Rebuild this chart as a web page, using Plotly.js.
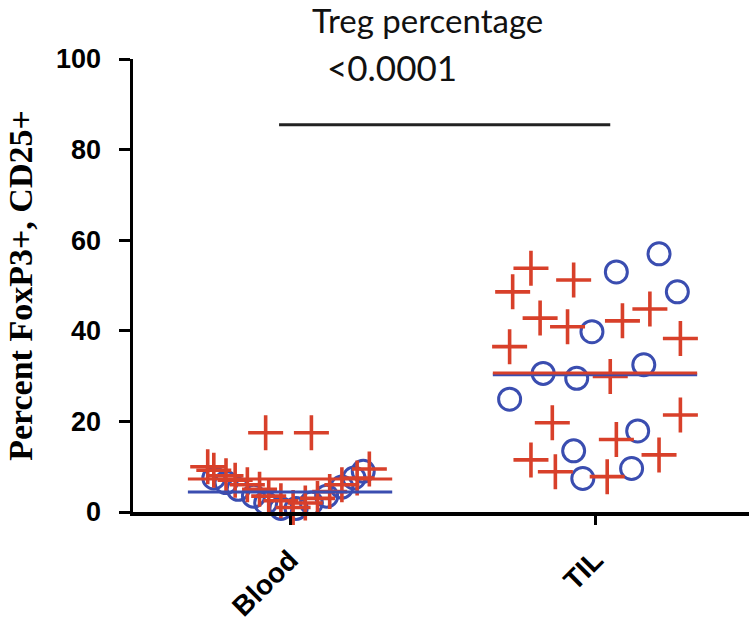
<!DOCTYPE html>
<html>
<head>
<meta charset="utf-8">
<script src="https://cdn.plot.ly/plotly-3.0.1.min.js"></script>
<style>html,body{margin:0;padding:0;background:#fff;}#chart{width:749px;height:631px;}</style>
</head>
<body>
<div id="chart"></div>
<script>
// Categories
const categories = ["Blood", "TIL"];
const yTickVals = [0, 20, 40, 60, 80, 100];
const yTickText = ["0", "20", "40", "60", "80", "100"];

// Blood: red crosses
const bloodRed = [10.0, 9.2, 8.0, 7.0, 6.0, 5.0, 3.5, 2.5, 1.0, 2.0, 3.0, 4.5, 6.0, 7.5, 9.5, 17.5, 17.5];
const bloodRedJitter = [-0.27, -0.25, -0.21, -0.18, -0.14, -0.10, -0.07, -0.03, 0.01, 0.05, 0.09, 0.13, 0.17, 0.22, 0.26, -0.08, 0.07];
// Blood: blue circles
const bloodBlue = [7.5, 6.5, 5.0, 3.5, 2.0, 0.8, 0.8, 2.0, 3.5, 5.5, 7.5, 9.0];
const bloodBlueJitter = [-0.25, -0.21, -0.17, -0.12, -0.08, -0.03, 0.02, 0.07, 0.12, 0.17, 0.21, 0.24];

// TIL: red crosses
const tilRed = [53.8, 48.6, 51.2, 42.8, 40.9, 42.2, 44.8, 36.5, 38.3, 29.9, 19.7, 21.4, 16.0, 11.5, 8.9, 7.8, 12.6];
const tilRedJitter = [-0.21, -0.27, -0.07, -0.18, -0.09, 0.09, 0.18, -0.28, 0.28, 0.05, -0.14, 0.28, 0.07, -0.21, -0.13, 0.04, 0.21];
// TIL: blue circles
const tilBlue = [57.0, 53.0, 48.6, 39.8, 30.6, 29.5, 32.5, 24.9, 17.9, 13.5, 7.4, 9.6];
const tilBlueJitter = [0.21, 0.07, 0.27, -0.01, -0.17, -0.06, 0.16, -0.28, 0.14, -0.07, -0.04, 0.12];

// Group means
const redMeans = [7.3, 30.7];
const blueMeans = [4.4, 30.3];

// Significance
const pText = "<0.0001";
const sigY = 85.5;

const RED = "#d8402a";
const BLUE = "#3a4db0";

function xs(catIdx, jit) { return jit.map(j => catIdx + j); }

const traces = [];
// circles
traces.push({
  type: "scatter", mode: "markers", cliponaxis: false,
  x: xs(0, bloodBlueJitter).concat(xs(1, tilBlueJitter)),
  y: bloodBlue.concat(tilBlue),
  marker: {symbol: "circle-open", size: 22, color: BLUE, line: {width: 3, color: BLUE}},
  hoverinfo: "skip"
});
// crosses
traces.push({
  type: "scatter", mode: "markers", cliponaxis: false,
  x: xs(0, bloodRedJitter).concat(xs(1, tilRedJitter)),
  y: bloodRed.concat(tilRed),
  marker: {symbol: "cross-thin-open", size: 25, color: RED, line: {width: 3.6, color: RED}},
  hoverinfo: "skip"
});

const halfW = 0.335;
const shapes = [];
categories.forEach((c, i) => {
  shapes.push({type: "line", xref: "x", yref: "y", x0: i - halfW, x1: i + halfW, y0: blueMeans[i], y1: blueMeans[i], line: {color: BLUE, width: 3}});
  shapes.push({type: "line", xref: "x", yref: "y", x0: i - halfW, x1: i + halfW, y0: redMeans[i], y1: redMeans[i], line: {color: RED, width: 3}});
});
shapes.push({type: "line", xref: "x", yref: "y", x0: -0.036, x1: 1.05, y0: sigY, y1: sigY, line: {color: "#222", width: 3}});

const layout = {
  width: 749, height: 631,
  margin: {l: 133, r: 0, t: 59, b: 119, pad: 0},
  paper_bgcolor: "#fff", plot_bgcolor: "#fff",
  showlegend: false,
  title: {
    text: "Treg percentage",
    font: {family: "Lato, 'Open Sans', sans-serif", size: 33, color: "#111"},
    x: 0.571, xref: "container", xanchor: "center",
    y: 0.966, yref: "container", yanchor: "middle"
  },
  xaxis: {
    range: [-0.515, 1.505],
    tickvals: [0, 1], ticktext: categories,
    tickangle: -45,
    ticks: "outside", ticklen: 9, tickwidth: 3, tickcolor: "#000",
    showline: true, linecolor: "#000", linewidth: 3.5,
    showgrid: false, zeroline: false,
    ticklabelstandoff: 8,
    tickfont: {family: "'Liberation Sans', Arial, sans-serif", size: 28, color: "#000", weight: "bold"}
  },
  yaxis: {
    range: [0, 100],
    tickvals: yTickVals, ticktext: yTickText,
    ticks: "outside", ticklen: 11, tickwidth: 3, tickcolor: "#000",
    showline: true, linecolor: "#000", linewidth: 3.5,
    showgrid: false, zeroline: false,
    ticklabelstandoff: 12,
    tickfont: {family: "'Liberation Sans', Arial, sans-serif", size: 27, color: "#000", weight: "bold"},
    title: {text: "Percent FoxP3+, CD25+", standoff: 14,
      font: {family: "'Liberation Serif', 'Times New Roman', serif", size: 34, color: "#000", weight: "bold"}}
  },
  shapes: shapes,
  annotations: [{
    xref: "x", yref: "y", x: 0.334, y: 98.3, text: pText, showarrow: false,
    xanchor: "center", yanchor: "middle",
    font: {family: "Lato, 'Open Sans', sans-serif", size: 35, color: "#111"}
  }]
};

Plotly.newPlot("chart", traces, layout, {staticPlot: true, displayModeBar: false});
</script>
</body>
</html>
